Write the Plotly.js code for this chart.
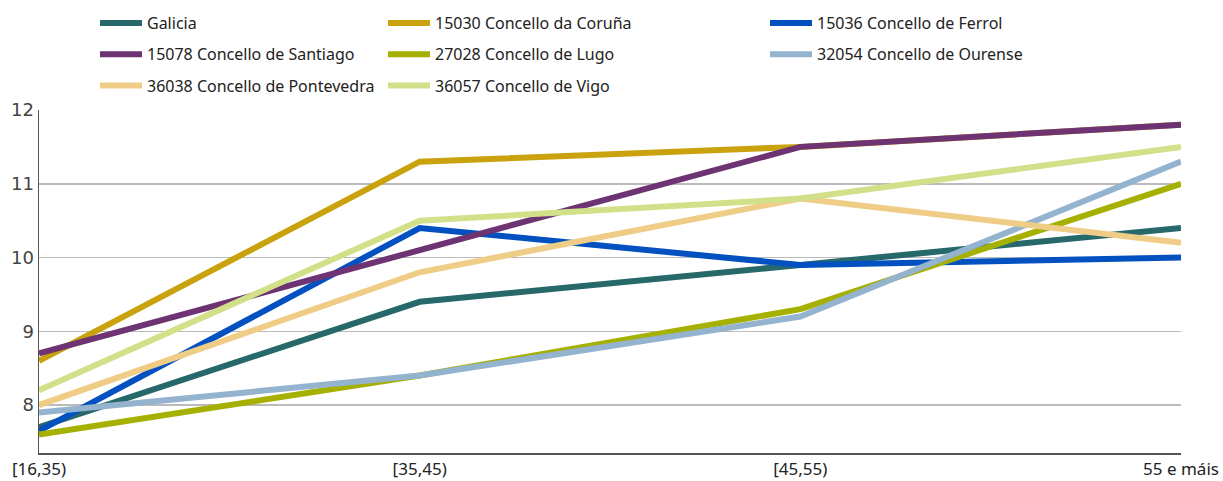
<!DOCTYPE html>
<html><head><meta charset="utf-8">
<script src="https://cdn.plot.ly/plotly-3.0.1.min.js"></script>
<style>html,body{margin:0;padding:0;background:#fff}#chart{width:1223px;height:481px}</style>
</head><body><div id="chart"></div>
<script>
const categories = ["[16,35)", "[35,45)", "[45,55)", "55 e máis"];
const seriesNames = ["Galicia", "15030 Concello da Coruña", "15036 Concello de Ferrol",
  "15078 Concello de Santiago", "27028 Concello de Lugo", "32054 Concello de Ourense",
  "36038 Concello de Pontevedra", "36057 Concello de Vigo"];
const galicia    = [7.7, 9.4, 9.9, 10.4];
const coruna     = [8.6, 11.3, 11.5, 11.8];
const ferrol     = [7.65, 10.4, 9.9, 10.0];
const santiago   = [8.7, 10.1, 11.5, 11.8];
const lugo       = [7.6, 8.4, 9.3, 11.0];
const ourense    = [7.9, 8.4, 9.2, 11.3];
const pontevedra = [8.0, 9.8, 10.8, 10.2];
const vigo       = [8.2, 10.5, 10.8, 11.5];
const seriesValues = [galicia, coruna, ferrol, santiago, lugo, ourense, pontevedra, vigo];
const colors = ["#27696a", "#c9a20e", "#0351c1", "#6d3372", "#a5b000", "#93b3cf", "#f0cd86", "#d3e08a"];
const legendCols = ["legend", "legend2", "legend3", "legend", "legend2", "legend3", "legend", "legend2"];

const traces = seriesNames.map((n, i) => ({
  type: "scatter", mode: "lines", name: n,
  x: categories, y: seriesValues[i],
  legend: legendCols[i], legendgroup: "g" + i,
  line: {color: colors[i], width: 6}
}));

function leg(xpx) {
  return {orientation: "v", xref: "container", yref: "container",
          x: xpx / 1223, xanchor: "left", y: 1 - 6 / 481, yanchor: "top",
          font: {family: "Noto Sans, sans-serif", size: 16, color: "#222"},
          tracegroupgap: 7.5, itemwidth: 42, bgcolor: "rgba(0,0,0,0)", borderwidth: 0};
}

const layout = {
  width: 1223, height: 481,
  margin: {l: 39, r: 42, t: 110, b: 28, autoexpand: false},
  paper_bgcolor: "#fff", plot_bgcolor: "#fff",
  font: {family: "Noto Sans, sans-serif", size: 17, color: "#222"},
  showlegend: true,
  legend: leg(95), legend2: leg(383), legend3: leg(765),
  xaxis: {type: "category", range: [0, 3], showgrid: false, zeroline: false, automargin: false,
          showline: true, linecolor: "#555", linewidth: 1.5, ticks: "", tickangle: 0,
          tickfont: {size: 17, color: "#222"}},
  yaxis: {range: [7.35, 12], dtick: 1, tick0: 8, showgrid: true, gridcolor: "#bbbbbb", gridwidth: 1.5,
          zeroline: false, showline: true, linecolor: "#555", linewidth: 1.5, ticks: "", automargin: false,
          tickfont: {family: "DejaVu Sans, sans-serif", size: 18, color: "#444"}}
};
Plotly.newPlot("chart", traces, layout, {displayModeBar: false, staticPlot: true});
</script></body></html>
